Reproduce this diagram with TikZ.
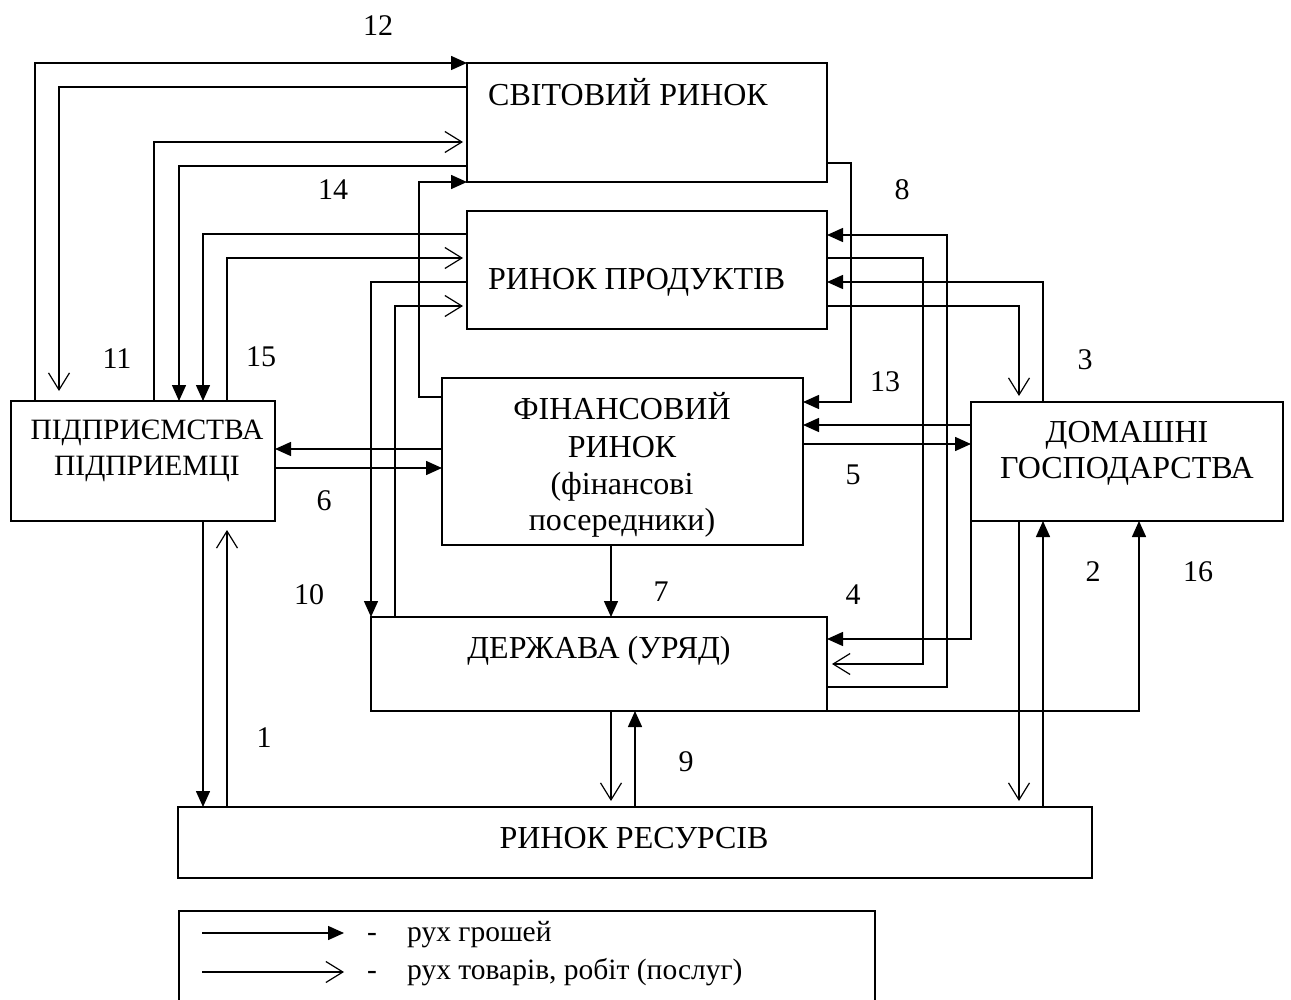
\documentclass[tikz,border=0pt]{standalone}
\usepackage{fontspec}
\setmainfont{Liberation Serif}
\usetikzlibrary{arrows.meta}
\begin{document}
\begin{tikzpicture}[x=1pt,y=-1pt,
  box/.style={draw,line width=1.5pt,inner sep=0pt,outer sep=0pt},
  txt/.style={inner sep=0pt,font=\fontsize{32}{38}\selectfont},
  firmtxt/.style={inner sep=0pt,font=\fontsize{29.5}{36}\selectfont},
  lbl/.style={inner sep=0pt,font=\fontsize{30}{36}\selectfont},
  lgtxt/.style={inner sep=0pt,font=\fontsize{29.5}{36}\selectfont},
  money/.style={line width=1.5pt,-{Triangle[length=16pt,width=14pt]}},
  goods/.style={line width=1.2pt,-{Straight Barb[length=17pt,width=21pt,line width=1.2pt]},shorten >=5pt},
  plainline/.style={line width=1.5pt}]
\useasboundingbox (0,0) rectangle (1291,1000);
% boxes
\node[box,minimum width=360pt,minimum height=119pt] (world) at (647,122.5) {};
\node[box,minimum width=360pt,minimum height=118pt] (prod) at (647,270) {};
\node[box,minimum width=361pt,minimum height=167pt] (fin) at (622.5,461.5) {};
\node[box,minimum width=264pt,minimum height=120pt] (firm) at (143,461) {};
\node[box,minimum width=312pt,minimum height=119pt] (house) at (1127,461.5) {};
\node[box,minimum width=456pt,minimum height=94pt] (gov) at (599,664) {};
\node[box,minimum width=914pt,minimum height=71pt] (res) at (635,842.5) {};
% box texts
\node[txt,anchor=base west] (worldtxt) at (488,106) {СВІТОВИЙ РИНОК};
\node[txt,anchor=base west] (prodtxt) at (488,290) {РИНОК ПРОДУКТІВ};
\node[txt,anchor=base] (fintxta) at (622,419) {ФІНАНСОВИЙ};
\node[txt,anchor=base] (fintxtb) at (622,457) {РИНОК};
\node[txt,anchor=base] (fintxtc) at (622,494) {(фінансові};
\node[txt,anchor=base] (fintxtd) at (622,530) {посередники)};
\node[firmtxt,anchor=base] (firmtxta) at (147,439) {ПІДПРИЄМСТВА};
\node[firmtxt,anchor=base] (firmtxtb) at (147,475) {ПІДПРИЕМЦІ};
\node[txt,anchor=base] (housetxta) at (1127,442) {ДОМАШНІ};
\node[txt,anchor=base] (housetxtb) at (1127,478) {ГОСПОДАРСТВА};
\node[txt,anchor=base] (govtxt) at (599,658) {ДЕРЖАВА (УРЯД)};
\node[txt,anchor=base] (restxt) at (634,848) {РИНОК РЕСУРСІВ};
% number labels
\node[lbl] (l12) at (378,26) {12};
\node[lbl] (l14) at (333,190) {14};
\node[lbl] (l8) at (902,190) {8};
\node[lbl] (l11) at (117,359) {11};
\node[lbl] (l15) at (261,357) {15};
\node[lbl] (l13) at (885,382) {13};
\node[lbl] (l3) at (1085,360) {3};
\node[lbl] (l6) at (324,501) {6};
\node[lbl] (l5) at (853,475) {5};
\node[lbl] (l10) at (309,595) {10};
\node[lbl] (l7) at (661,592) {7};
\node[lbl] (l4) at (853,595) {4};
\node[lbl] (l2) at (1093,572) {2};
\node[lbl] (l16) at (1198,572) {16};
\node[lbl] (l1) at (264,738) {1};
\node[lbl] (l9) at (686,762) {9};
% connectors: firm <-> world
\draw[money] (firm.north -| 35,0) |- (world.north west);
\draw[goods,shorten >=10pt] (world.west |- 0,87) -| (firm.north -| 59,0);
\draw[goods,shorten >=4pt] (firm.north -| 154,0) |- (world.west |- 0,142);
\draw[money] (world.west |- 0,166) -| (firm.north -| 179,0);
% fin -> world
\draw[money] (fin.west |- 0,397) -| (419,182) -- (world.south west);
% firm <-> products
\draw[money] (prod.west |- 0,234) -| (firm.north -| 203,0);
\draw[goods,shorten >=4pt] (firm.north -| 227,0) |- (prod.west |- 0,258);
% gov <-> products
\draw[money] (prod.west |- 0,282) -| (gov.north west);
\draw[goods,shorten >=4pt] (gov.north -| 395,0) |- (prod.west |- 0,306);
% firm <-> fin
\draw[money] (fin.west |- 0,449) -- (firm.east |- 0,449);
\draw[money] (firm.east |- 0,468) -- (fin.west |- 0,468);
% fin -> gov
\draw[money] (fin.south -| 611,0) -- (gov.north -| 611,0);
% world -> fin
\draw[money] (world.east |- 0,163) -| (851,402) -- (fin.east |- 0,402);
% gov <-> products (right side)
\draw[money] (gov.east |- 0,687) -| (947,235) -- (prod.east |- 0,235);
\draw[goods] (prod.east |- 0,258) -| (923,664) -- (gov.east |- 0,664);
% house <-> products
\draw[money] (house.north -| 1043,0) |- (prod.east |- 0,282);
\draw[goods,shorten >=6pt] (prod.east |- 0,306) -| (house.north -| 1019,0);
% house <-> fin
\draw[money] (house.west |- 0,425) -- (fin.east |- 0,425);
\draw[money] (fin.east |- 0,444) -- (house.west |- 0,444);
% house -> gov, gov -> house
\draw[money] (house.south west) |- (gov.east |- 0,639);
\draw[money] (gov.south east) -| (house.south -| 1139,0);
% house <-> resources
\draw[goods,shorten >=6pt] (house.south -| 1019,0) -- (res.north -| 1019,0);
\draw[money] (res.north -| 1043,0) -- (house.south -| 1043,0);
% gov <-> resources
\draw[goods,shorten >=6pt] (gov.south -| 611,0) -- (res.north -| 611,0);
\draw[money] (res.north -| 635,0) -- (gov.south -| 635,0);
% firm <-> resources
\draw[money] (firm.south -| 203,0) -- (res.north -| 203,0);
\draw[goods,shorten >=9pt] (res.north -| 227,0) -- (firm.south -| 227,0);
% legend
\draw[plainline] (179,1010) -- (179,911) -- (875,911) -- (875,1010);
\coordinate (lga) at (202,933);
\coordinate (lgb) at (344,933);
\coordinate (lgc) at (202,972);
\coordinate (lgd) at (344,972);
\draw[money] (lga) -- (lgb);
\draw[goods,shorten >=0pt] (lgc) -- (lgd);
\node[lgtxt,anchor=base] (lgdasha) at (372,941) {-};
\node[lgtxt,anchor=base] (lgdashb) at (372,979) {-};
\node[lgtxt,anchor=base west] (lgtxta) at (407,941) {рух грошей};
\node[lgtxt,anchor=base west] (lgtxtb) at (407,979) {рух товарів, робіт (послуг)};
\end{tikzpicture}
\end{document}
